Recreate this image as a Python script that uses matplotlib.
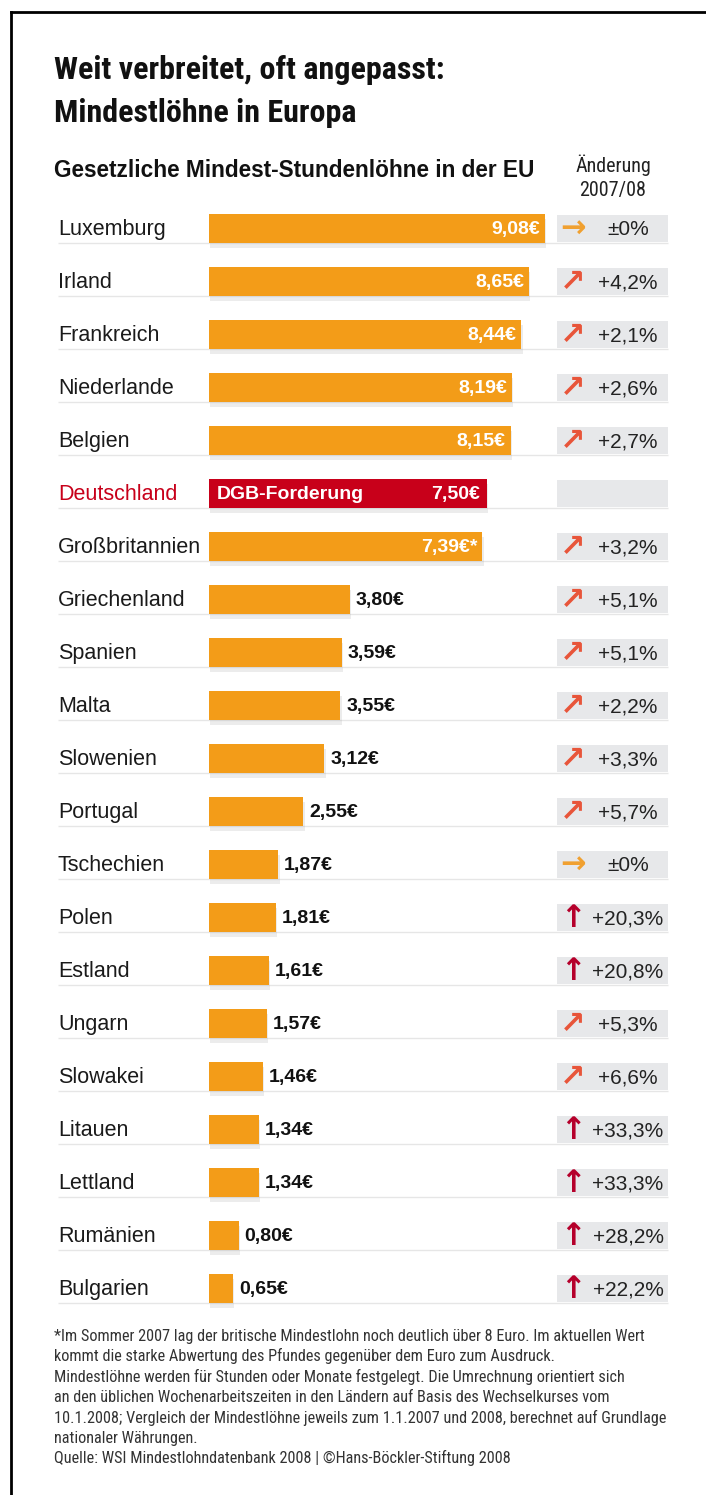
import numpy as np
from matplotlib import pyplot as plt
from matplotlib import font_manager
from matplotlib import patheffects
from matplotlib.lines import Line2D

# --- data ---
countries = [
    "Luxemburg", "Irland", "Frankreich", "Niederlande", "Belgien", "Deutschland",
    "Großbritannien", "Griechenland", "Spanien", "Malta", "Slowenien", "Portugal",
    "Tschechien", "Polen", "Estland", "Ungarn", "Slowakei", "Litauen", "Lettland",
    "Rumänien", "Bulgarien",
]
wages = [9.08, 8.65, 8.44, 8.19, 8.15, 7.50, 7.39, 3.80, 3.59, 3.55, 3.12, 2.55,
         1.87, 1.81, 1.61, 1.57, 1.46, 1.34, 1.34, 0.80, 0.65]
# None = no value (Deutschland, DGB demand)
changes = [0.0, 4.2, 2.1, 2.6, 2.7, None, 3.2, 5.1, 5.1, 2.2, 3.3, 5.7,
           0.0, 20.3, 20.8, 5.3, 6.6, 33.3, 33.3, 28.2, 22.2]
highlight = "Deutschland"
footnote_star = "Großbritannien"

title_lines = ["Weit verbreitet, oft angepasst:", "Mindestlöhne in Europa"]
subtitle = "Gesetzliche Mindest-Stundenlöhne in der EU"
change_header = ["Änderung", "2007/08"]
footnote = [
    "*Im Sommer 2007 lag der britische Mindestlohn noch deutlich über 8 Euro. Im aktuellen Wert",
    "kommt die starke Abwertung des Pfundes gegenüber dem Euro zum Ausdruck.",
    "Mindestlöhne werden für Stunden oder Monate festgelegt. Die Umrechnung orientiert sich",
    "an den üblichen Wochenarbeitszeiten in den Ländern auf Basis des Wechselkurses vom",
    "10.1.2008; Vergleich der Mindestlöhne jeweils zum 1.1.2007 und 2008, berechnet auf Grundlage",
    "nationaler Währungen.",
    "Quelle: WSI Mindestlohndatenbank 2008 | ©Hans-Böckler-Stiftung 2008",
]

W, H = 706, 1495
X0_PX = 209       # pixel where 0 € sits
PX_PER_EUR = 37.0
ROW0_PX = 228     # centre of first row
ROW_PX = 53       # row pitch

ORANGE = "#f39c18"
RED = "#c8001a"
BOX = "#e7e8ea"


def has_font(name):
    try:
        font_manager.findfont(name, fallback_to_default=False)
        return True
    except ValueError:
        return False


BASE = "Liberation Sans"
COND = None
for cand in ["Roboto Condensed", "Liberation Sans Narrow", "Open Sans Condensed"]:
    if has_font(cand):
        COND = cand
        break
TITLE = COND if COND else BASE


def eur(px):
    """pixel x -> data x (euro)"""
    return (px - X0_PX) / PX_PER_EUR


def fx(px):
    return px / W


def fy(py):
    return 1 - py / H


def fmt_eur(v):
    return f"{v:.2f}".replace(".", ",") + "€"


def fmt_change(c):
    if c == 0:
        return "±0%"
    return "+" + f"{c:.1f}".replace(".", ",") + "%"


def arrow_for(c):
    if c == 0:
        return "→", "#f0a030"
    if c >= 20:
        return "↑", "#b5002b"
    return "↗", "#e8553a"


fig = plt.figure(figsize=(W / 100, H / 100), dpi=100, facecolor="white")
ax = fig.add_axes([0, 0, 1, 1])
ax.set_xlim(eur(0), eur(W))
ax.set_ylim((H - ROW0_PX) / ROW_PX, -ROW0_PX / ROW_PX)
ax.axis("off")

n = len(countries)
rows = np.arange(n)
bar_h = 29 / ROW_PX

# row separators
ax.hlines(rows + 15 / ROW_PX, eur(58), eur(668), color="#e6e6e6", lw=1, zorder=0)

# change boxes
ax.barh(rows, eur(668) - eur(557), left=eur(557), height=27 / ROW_PX, color=BOX, zorder=1)

colors = [RED if c == highlight else ORANGE for c in countries]
bars = ax.barh(rows, wages, height=bar_h, color=colors, zorder=2)
for b in bars:
    b.set_path_effects([
        patheffects.SimplePatchShadow(offset=(1, -4), shadow_rgbFace="#999999", alpha=0.18),
        patheffects.Normal(),
    ])

for i, (name, w, c) in enumerate(zip(countries, wages, changes)):
    ax.text(eur(58), i + 0.02, name, ha="left", va="center", fontsize=15.5,
            family=BASE, color=RED if name == highlight else "#1a1a1a")
    label = fmt_eur(w) + ("*" if name == footnote_star else "")
    if name == highlight:
        ax.text(eur(217), i + 0.02, "DGB-Forderung", ha="left", va="center", fontsize=14,
                family=BASE, weight="bold", color="white", zorder=3)
        ax.text(w - 6 / PX_PER_EUR, i + 0.02, label, ha="right", va="center", fontsize=14,
                family=BASE, weight="bold", color="white", zorder=3)
    elif w > 5:
        ax.text(w - 5 / PX_PER_EUR, i + 0.02, label, ha="right", va="center", fontsize=14,
                family=BASE, weight="bold", color="white", zorder=3)
    else:
        ax.text(w + 6 / PX_PER_EUR, i + 0.02, label, ha="left", va="center", fontsize=14,
                family=BASE, weight="bold", color="#111111", zorder=3)
    if c is not None:
        glyph, col = arrow_for(c)
        ax.text(eur(573), i + 0.02, glyph, ha="center", va="center", fontsize=22,
                family="DejaVu Sans", weight="bold", color=col, zorder=3)
        ax.text(eur(628), i + 0.03, fmt_change(c), ha="center", va="center", fontsize=15,
                family=BASE, color="#222222", zorder=3)

# titles
tsize = 23 if COND else 20.5
fig.text(fx(54), fy(79), title_lines[0], ha="left", va="baseline",
         fontsize=tsize, weight="bold", family=TITLE, color="#111111")
fig.text(fx(54), fy(122), title_lines[1], ha="left", va="baseline",
         fontsize=tsize, weight="bold", family=TITLE, color="#111111")
fig.text(fx(54), fy(177), subtitle, ha="left", va="baseline",
         fontsize=16.3, weight="bold", family=BASE, color="#111111")
fig.text(fx(613), fy(172), change_header[0], ha="center", va="baseline",
         fontsize=14.5, family=TITLE, color="#222222")
fig.text(fx(613), fy(196), change_header[1], ha="center", va="baseline",
         fontsize=14.5, family=TITLE, color="#222222")

# footnote
for k, line in enumerate(footnote):
    fig.text(fx(54), fy(1341 + k * 20.4), line, ha="left", va="baseline",
             fontsize=11.7 if COND else 10.8, family=TITLE, color="#333333")

# frame (left and top edges only)
fig.add_artist(Line2D([fx(11), fx(11)], [0, fy(12)], color="black", lw=2))
fig.add_artist(Line2D([fx(11), 1], [fy(12), fy(12)], color="black", lw=2))

fig.savefig("out.png", dpi=100, facecolor="white")
